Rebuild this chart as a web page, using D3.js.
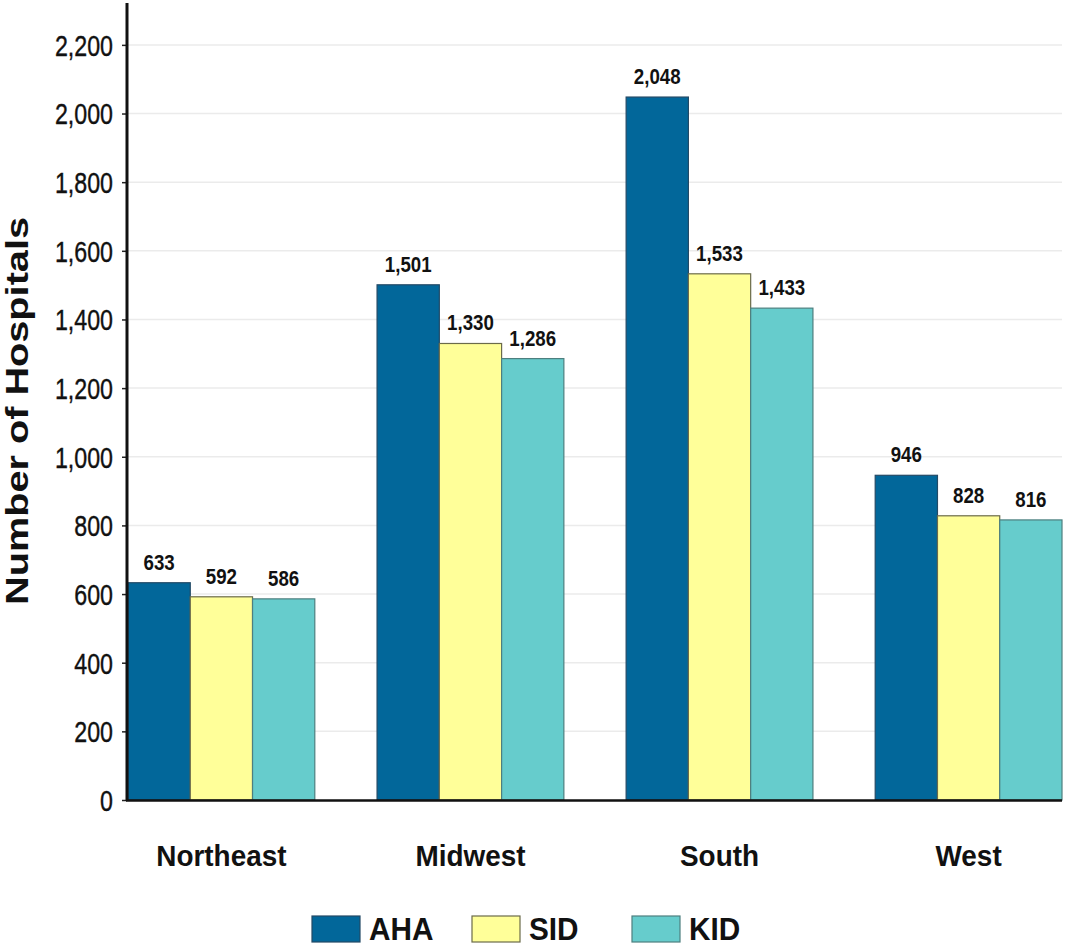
<!DOCTYPE html>
<html>
<head>
<meta charset="utf-8">
<script src="https://cdn.jsdelivr.net/npm/d3@7"></script>
<style>
  html, body { margin: 0; padding: 0; background: #fff; }
  svg { display: block; }
  text { font-family: "Liberation Sans", Arial, sans-serif; }
</style>
</head>
<body>
<svg id="chart" width="1065" height="948"></svg>
<script>
const regions = ["Northeast", "Midwest", "South", "West"];
const seriesNames = ["AHA", "SID", "KID"];
const ahaValues = [633, 1501, 2048, 946];
const sidValues = [592, 1330, 1533, 828];
const kidValues = [586, 1286, 1433, 816];
const yTicks = [0, 200, 400, 600, 800, 1000, 1200, 1400, 1600, 1800, 2000, 2200];
const colors = ["#02679a", "#ffff99", "#66cccc"];
const strokes = ["#234a66", "#6b6b4a", "#4d7f7f"];

const seriesValues = [ahaValues, sidValues, kidValues];
const data = regions.map((r, i) => ({
  region: r,
  values: seriesNames.map((s, j) => ({ series: s, value: seriesValues[j][i], idx: j }))
}));

function squeeze(sel, factor) {
  sel.each(function () {
    const w = this.getComputedTextLength();
    d3.select(this).attr("textLength", w * factor).attr("lengthAdjust", "spacingAndGlyphs");
  });
}

const svg = d3.select("#chart");
const mLeft = 127, mRight = 1062, mTop = 3, mBottom = 800;

const x0 = d3.scaleBand().domain(regions).range([mLeft + 1, mRight]).paddingInner(0.25).paddingOuter(0);
const x1 = d3.scaleBand().domain(seriesNames).range([0, x0.bandwidth()]).padding(0);
const y = d3.scaleLinear().domain([0, 2322]).range([mBottom, mTop]);

// gridlines
svg.append("g")
  .selectAll("line")
  .data(yTicks.filter(d => d > 0))
  .join("line")
  .attr("x1", mLeft).attr("x2", mRight)
  .attr("y1", d => y(d)).attr("y2", d => y(d))
  .attr("stroke", "#ebebeb").attr("stroke-width", 1.5);

// bars
const groups = svg.append("g")
  .selectAll("g")
  .data(data)
  .join("g")
  .attr("transform", d => `translate(${x0(d.region)},0)`);

groups.selectAll("rect")
  .data(d => d.values)
  .join("rect")
  .attr("x", d => x1(d.series))
  .attr("width", x1.bandwidth())
  .attr("y", d => y(d.value))
  .attr("height", d => y(0) - y(d.value))
  .attr("fill", d => colors[d.idx])
  .attr("stroke", d => strokes[d.idx])
  .attr("stroke-width", 1.2);

const valueLabels = groups.selectAll("text")
  .data(d => d.values)
  .join("text")
  .attr("x", d => x1(d.series) + x1.bandwidth() / 2)
  .attr("y", d => y(d.value) - 13)
  .attr("text-anchor", "middle")
  .attr("font-size", 22)
  .attr("font-weight", "bold")
  .attr("fill", "#111")
  .text(d => d3.format(",")(d.value));
squeeze(valueLabels, 0.85);

// y axis
const yAxis = d3.axisLeft(y).tickValues(yTicks).tickFormat(d3.format(",")).tickSize(5).tickPadding(9);
const ga = svg.append("g").attr("transform", `translate(${mLeft},0)`).call(yAxis);
ga.select(".domain").remove();
ga.selectAll(".tick line").attr("stroke", "#222").attr("stroke-width", 1.5);
const tickTexts = ga.selectAll(".tick text")
  .attr("font-size", 29)
  .attr("fill", "#111")
  .attr("stroke", "#111")
  .attr("stroke-width", 0.4)
  .attr("font-family", "Liberation Sans, Arial, sans-serif")
  .attr("dy", "0.36em");
squeeze(tickTexts, 0.8);

svg.append("line")
  .attr("x1", mLeft).attr("x2", mLeft)
  .attr("y1", mTop).attr("y2", mBottom + 1)
  .attr("stroke", "#111").attr("stroke-width", 3);
svg.append("line")
  .attr("x1", mLeft - 1).attr("x2", mRight)
  .attr("y1", mBottom + 0.5).attr("y2", mBottom + 0.5)
  .attr("stroke", "#111").attr("stroke-width", 2.5);

// category labels
const catLabels = svg.append("g")
  .selectAll("text")
  .data(regions)
  .join("text")
  .attr("x", d => x0(d) + x0.bandwidth() / 2)
  .attr("y", 866)
  .attr("text-anchor", "middle")
  .attr("font-size", 30)
  .attr("font-weight", "bold")
  .attr("fill", "#111")
  .text(d => d);
squeeze(catLabels, 0.93);

// y title
svg.append("text")
  .attr("transform", "translate(28,411) rotate(-90)")
  .attr("text-anchor", "middle")
  .attr("font-size", 32)
  .attr("font-weight", "bold")
  .attr("fill", "#111")
  .attr("textLength", 388)
  .attr("lengthAdjust", "spacingAndGlyphs")
  .text("Number of Hospitals");

// legend
const leg = svg.append("g")
  .selectAll("g")
  .data(seriesNames)
  .join("g")
  .attr("transform", (d, i) => `translate(${312 + i * 160},916)`);
leg.append("rect")
  .attr("width", 48).attr("height", 26)
  .attr("fill", (d, i) => colors[i])
  .attr("stroke", (d, i) => strokes[i])
  .attr("stroke-width", 1.2);
const legTexts = leg.append("text")
  .attr("x", 57).attr("y", 24)
  .attr("font-size", 32)
  .attr("font-weight", "bold")
  .attr("fill", "#111")
  .text(d => d);
squeeze(legTexts, 0.93);
</script>
</body>
</html>
